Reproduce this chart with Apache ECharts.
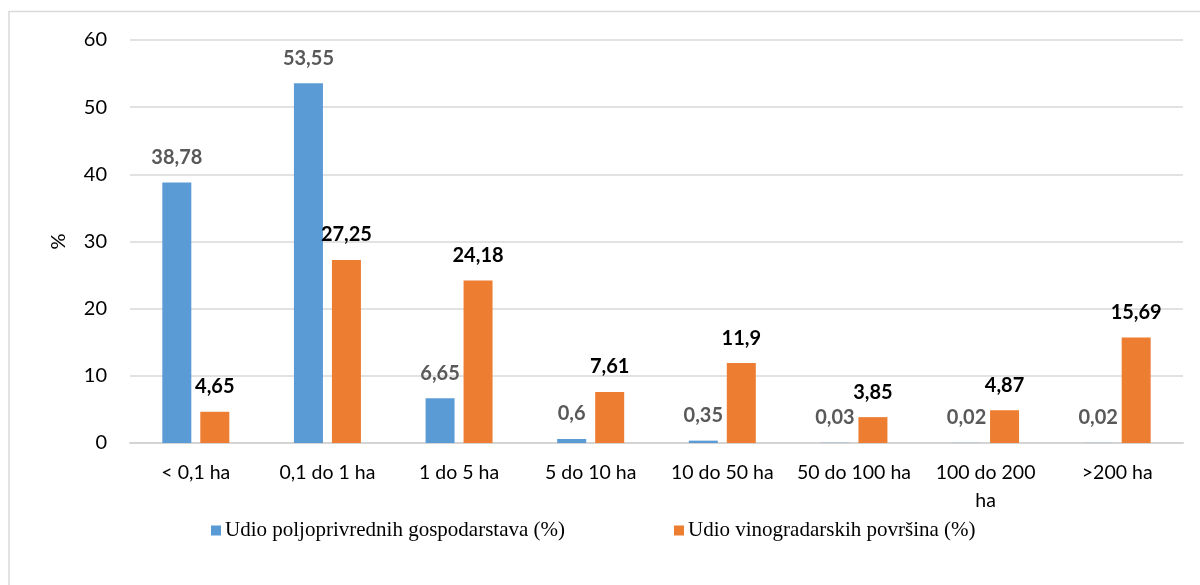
<!DOCTYPE html>
<html>
<head>
<meta charset="utf-8">
<script src="https://cdn.jsdelivr.net/npm/echarts@6/dist/echarts.min.js"></script>
<style>
html,body{margin:0;padding:0;background:#fff;}
#chart{width:1200px;height:585px;}
</style>
</head>
<body>
<div id="chart"></div>
<script>
const categories = ['< 0,1 ha', '0,1 do 1 ha', '1 do 5 ha', '5 do 10 ha', '10 do 50 ha', '50 do 100 ha', '100 do 200\nha', '>200 ha'];
const seriesNames = ['Udio poljoprivrednih gospodarstava (%)', 'Udio vinogradarskih površina (%)'];
const farmsShare = [38.78, 53.55, 6.65, 0.6, 0.35, 0.03, 0.02, 0.02];
const vineyardShare = [4.65, 27.25, 24.18, 7.61, 11.9, 3.85, 4.87, 15.69];
const yTicks = { min: 0, max: 60, interval: 10 };

const chart = echarts.init(document.getElementById('chart'), null, { renderer: 'canvas' });
const fmt = p => String(p.value).replace('.', ',');
const option = {
  animation: false,
  backgroundColor: '#ffffff',
  graphic: [{
    type: 'rect',
    shape: { x: 9, y: 11.5, width: 1400, height: 800 },
    style: { fill: 'none', stroke: '#d9d9d9', lineWidth: 1.5 },
    silent: true
  }],
  grid: { left: 130, right: 17, top: 40, bottom: 142, containLabel: false },
  legend: {
    data: seriesNames,
    left: 206,
    top: 515,
    itemWidth: 10,
    itemHeight: 10,
    itemGap: 109,
    icon: 'rect',
    textStyle: { fontFamily: 'Liberation Serif', fontSize: 21, color: '#000', padding: [0, 0, 0, -1] }
  },
  xAxis: {
    type: 'category',
    data: categories,
    axisLine: { show: true, lineStyle: { color: '#d4d4d4', width: 2 } },
    axisTick: { show: false },
    axisLabel: { fontFamily: 'Lato', fontSize: 19.5, color: '#000', margin: 16, interval: 0, lineHeight: 28 }
  },
  yAxis: {
    type: 'value',
    min: yTicks.min, max: yTicks.max, interval: yTicks.interval,
    name: '%',
    nameLocation: 'middle',
    nameGap: 61,
    nameRotate: 90,
    nameTextStyle: { fontFamily: 'Lato', fontSize: 20, color: '#000' },
    axisLine: { show: false },
    axisTick: { show: false },
    splitLine: { lineStyle: { color: '#d9d9d9', width: 1.5 } },
    axisLabel: { fontFamily: 'Lato', fontSize: 20, color: '#000', margin: 23 }
  },
  series: [
    {
      name: seriesNames[0], type: 'bar', data: farmsShare,
      barWidth: 29, barGap: '31%',
      itemStyle: { color: '#5b9bd5' },
      label: { show: true, position: 'top', distance: 15, formatter: fmt,
        fontFamily: 'Lato', fontWeight: 'bold', fontSize: 20, color: '#595959' }
    },
    {
      name: seriesNames[1], type: 'bar', data: vineyardShare,
      barWidth: 29,
      itemStyle: { color: '#ed7d31' },
      label: { show: true, position: 'top', distance: 15, formatter: fmt,
        fontFamily: 'Lato', fontWeight: 'bold', fontSize: 20, color: '#000' }
    }
  ]
};
chart.setOption(option);
</script>
</body>
</html>
